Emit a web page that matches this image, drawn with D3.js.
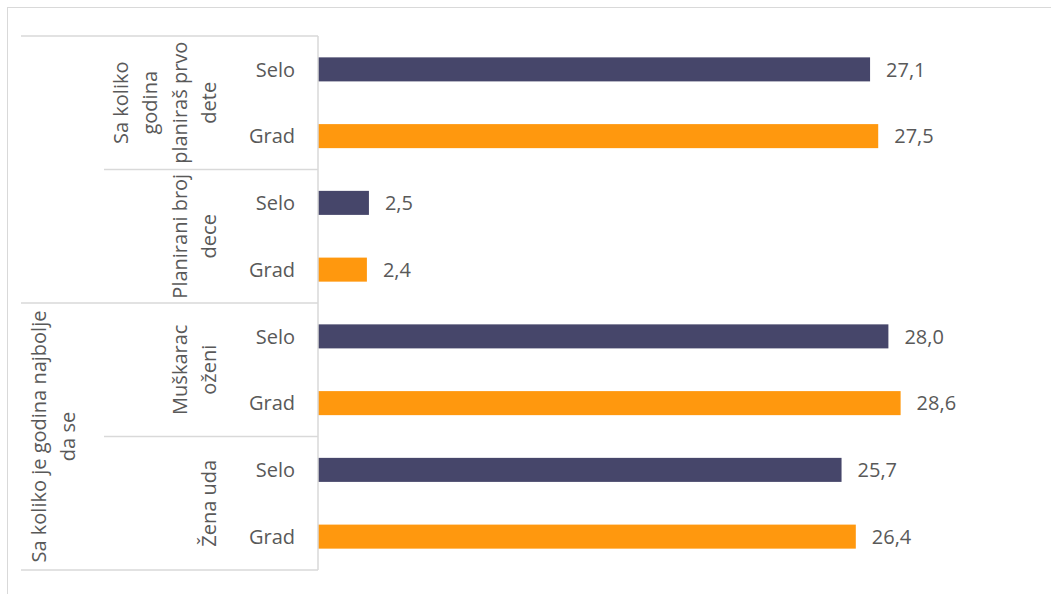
<!DOCTYPE html>
<html>
<head>
<meta charset="utf-8">
<script src="https://cdn.jsdelivr.net/npm/d3@7"></script>
<style>
  body { margin: 0; background: #fff; }
  svg text { font-family: "Open Sans", "Noto Sans", sans-serif; fill: #595959; }
</style>
</head>
<body>
<div id="chart"></div>
<script>
// rows, top to bottom
var rowLabels = ["Selo", "Grad", "Selo", "Grad", "Selo", "Grad", "Selo", "Grad"];
var values    = [27.1, 27.5, 2.5, 2.4, 28.0, 28.6, 25.7, 26.4];
var series    = ["Selo", "Grad", "Selo", "Grad", "Selo", "Grad", "Selo", "Grad"];

// second level groups (lines of wrapped text), each spans two rows
var subGroups = [
  ["Sa koliko", "godina", "planiraš prvo", "dete"],
  ["Planirani broj", "dece"],
  ["Muškarac", "oženi"],
  ["Žena uda"]
];
// top level: first two sub groups have no parent label
var topGroups = [
  {start: 0, end: 4, lines: []},
  {start: 4, end: 8, lines: ["Sa koliko je godina najbolje", "da se"]}
];

var W = 1051, H = 594;
var colors = {Selo: "#46466a", Grad: "#ff980e"};

var svg = d3.select("#chart").append("svg")
  .attr("width", W).attr("height", H);

// outer chart border (cut off at right/bottom)
svg.append("rect")
  .attr("x", 7.5).attr("y", 7.5)
  .attr("width", W + 20).attr("height", H + 20)
  .attr("fill", "none").attr("stroke", "#d9d9d9").attr("stroke-width", 1);

var plotTop = 36, plotBottom = 570, axisX = 318;

var x = d3.scaleLinear().domain([0, 35]).range([axisX, 1031]);
var y = d3.scaleBand().domain(d3.range(values.length)).range([plotTop, plotBottom]).paddingInner(0.64).paddingOuter(0.32);

// bars
svg.append("g").selectAll("rect")
  .data(values)
  .enter().append("rect")
    .attr("x", x(0))
    .attr("y", function(d, i) { return y(i); })
    .attr("width", function(d) { return x(d) - x(0); })
    .attr("height", y.bandwidth())
    .attr("fill", function(d, i) { return colors[series[i]]; });

// value labels
svg.append("g").selectAll("text")
  .data(values)
  .enter().append("text")
    .attr("x", function(d) { return x(d) + 16; })
    .attr("y", function(d, i) { return y(i) + y.bandwidth() / 2; })
    .attr("dy", "0.36em")
    .style("font-size", "20px")
    .text(function(d) { return d.toFixed(1).replace(".", ","); });

// category axis line
svg.append("line")
  .attr("x1", axisX).attr("x2", axisX)
  .attr("y1", plotTop).attr("y2", plotBottom)
  .attr("stroke", "#d9d9d9").attr("stroke-width", 1.5);

var rowH = (plotBottom - plotTop) / values.length;
function rowY(i) { return plotTop + i * rowH; }

// first level labels
svg.append("g").selectAll("text")
  .data(rowLabels)
  .enter().append("text")
    .attr("x", 295)
    .attr("y", function(d, i) { return rowY(i) + rowH / 2; })
    .attr("dy", "0.36em")
    .attr("text-anchor", "end")
    .style("font-size", "20px")
    .text(function(d) { return d; });

// separator lines between groups
var lineColor = "#d9d9d9";
function hline(yy, x1) {
  svg.append("line")
    .attr("x1", x1).attr("x2", axisX)
    .attr("y1", yy).attr("y2", yy)
    .attr("stroke", lineColor).attr("stroke-width", 1.5);
}
hline(rowY(0), 21);
hline(rowY(2), 104);
hline(rowY(4), 21);
hline(rowY(6), 104);
hline(rowY(8), 21);

// rotated multi-line label, last line sits at xLast
var lineGap = 29.5;
function rotLabel(lines, cx, cy) {
  var n = lines.length;
  var t = svg.append("text")
    .attr("transform", "translate(" + cx + "," + cy + ") rotate(-90)")
    .attr("text-anchor", "middle")
    .style("font-size", "20px");
  lines.forEach(function(l, k) {
    t.append("tspan")
      .attr("x", 0)
      .attr("y", (k - (n - 1) / 2) * lineGap)
      .attr("dy", "0.36em")
      .text(l);
  });
}

// second level: bottom-aligned at the same right edge
subGroups.forEach(function(lines, g) {
  var cy = rowY(g * 2) + rowH;
  var cx = 209 - (lines.length - 1) / 2 * lineGap;
  rotLabel(lines, cx, cy);
});

// top level
topGroups.forEach(function(gr) {
  if (!gr.lines.length) return;
  var cy = (rowY(gr.start) + rowY(gr.end)) / 2;
  var cx = 68 - (gr.lines.length - 1) / 2 * lineGap;
  rotLabel(gr.lines, cx, cy);
});
</script>
</body>
</html>
